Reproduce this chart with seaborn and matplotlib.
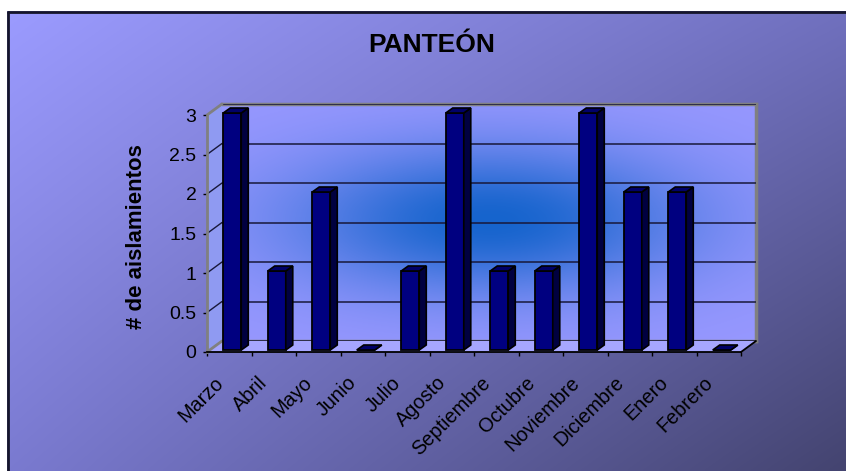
import numpy as np
import matplotlib
matplotlib.use("Agg")
import matplotlib.pyplot as plt
import seaborn as sns
from matplotlib.transforms import ScaledTranslation, IdentityTransform
from matplotlib.patches import Polygon
from matplotlib.lines import Line2D

# ---- data ----
months = ["Marzo", "Abril", "Mayo", "Junio", "Julio", "Agosto", "Septiembre",
          "Octubre", "Noviembre", "Diciembre", "Enero", "Febrero"]
counts = [3, 1, 2, 0, 1, 3, 1, 1, 3, 2, 2, 0]
yticks = [0, 0.5, 1, 1.5, 2, 2.5, 3]
ytick_labels = ["0", "0.5", "1", "1.5", "2", "2.5", "3"]
title = "PANTEÓN"
ylabel = "# de aislamientos"

sns.set_style("white")
plt.rcParams["font.family"] = ["Liberation Sans", "DejaVu Sans"]
plt.rcParams["text.color"] = "black"
plt.rcParams["xtick.color"] = "black"
plt.rcParams["ytick.color"] = "black"
plt.rcParams["axes.labelcolor"] = "black"

W, H, DPI = 846, 471, 100
fig = plt.figure(figsize=(W / DPI, H / DPI), dpi=DPI)
fig.patch.set_facecolor("white")


def px_rect(x0, y0, x1, y1):
    return [x0 / W, 1 - y1 / H, (x1 - x0) / W, (y1 - y0) / H]


# ---- outer background (diagonal gradient) ----
bg = fig.add_axes([0, 0, 1, 1], zorder=0)
bg.set_xlim(0, W)
bg.set_ylim(H, 0)
bg.axis("off")
nx, ny = 240, 140
u = np.linspace(0, 1, nx)[None, :, None]
v = np.linspace(0, 1, ny)[:, None, None]
TL = np.array([155, 155, 255.0])
TR = np.array([112, 112, 190.0])
BL = np.array([122, 122, 208.0])
BR = np.array([68, 68, 112.0])
img = (TL * (1 - u) * (1 - v) + TR * u * (1 - v) + BL * (1 - u) * v + BR * u * v) / 255
bg.imshow(img, extent=(7, W, H, 11), aspect="auto", interpolation="bilinear", zorder=0)
bg.plot([7.5, 7.5], [H, 11], color="#15152a", lw=2, zorder=1, solid_capstyle="butt")
bg.plot([7, W], [11.5, 11.5], color="#15152a", lw=2, zorder=1, solid_capstyle="butt")

# ---- back wall ----
wall = fig.add_axes(px_rect(222, 104, 756, 341), zorder=1)
wall.set_xlim(-0.5, 11.5)
wall.set_ylim(0, 3)
wx = np.linspace(0, 534, 300)[None, :]
wy = np.linspace(0, 237, 150)[:, None]
cx, cy = 268, 121
g = np.exp(-(((wx - cx) / 200.0) ** 2 + ((wy - cy) / 75.0) ** 2))
base = np.array([152, 152, 255.0])
glow = np.array([22, 100, 205.0])
wimg = (base * (1 - g[..., None]) + glow * g[..., None]) / 255
wall.imshow(wimg, extent=(-0.5, 11.5, 3, 0), aspect="auto", interpolation="bilinear", zorder=0)
wall.set_ylim(0, 3)
wall.set_yticks(yticks)
wall.set_xticks([])
wall.tick_params(left=False, labelleft=False)
wall.set_axisbelow(False)
wall.grid(axis="y", color="#18183a", lw=1.1)
for s in ["top", "right", "bottom"]:
    wall.spines[s].set_color("#808080")
    wall.spines[s].set_linewidth(2.5)
wall.spines["left"].set_visible(False)

# ---- main (front) axes ----
ax = fig.add_axes(px_rect(207, 115, 741, 352), zorder=3)
ax.patch.set_alpha(0)
sns.barplot(x=months, y=counts, ax=ax, color="#000080", saturation=1,
            width=0.405, edgecolor="black", linewidth=1.3)
ax.set_xlim(-0.5, 11.5)
ax.set_ylim(0, 3)
ax.set_yticks(yticks, ytick_labels)
ax.set_xticks(range(len(months)), months)
ax.set_xticks(np.arange(-0.5, len(months), 1), minor=True)
ax.set_xlabel("")
ax.set_ylabel("")
ax.tick_params(axis="y", direction="out", length=3, width=1, color="black",
               labelcolor="black", pad=4.5, labelsize=14, left=True)
ax.tick_params(axis="x", which="major", length=0, pad=20, labelsize=14.3,
               labelcolor="black")
ax.tick_params(axis="x", which="minor", direction="out", length=3, width=1,
               color="black", bottom=True)
lab_off = ScaledTranslation(-9 / DPI, 0, fig.dpi_scale_trans)
for lab in ax.get_xticklabels():
    lab.set_rotation(45)
    lab.set_ha("right")
    lab.set_va("center")
    lab.set_rotation_mode("anchor")
    lab.set_transform(lab.get_transform() + lab_off)
for s in ["top", "right"]:
    ax.spines[s].set_visible(False)
ax.spines["left"].set_color("#808080")
ax.spines["left"].set_linewidth(2)
ax.spines["bottom"].set_color("black")
ax.spines["bottom"].set_linewidth(1.3)

# ---- 3D decorations: floor & side wall ----
ident = IdentityTransform()
f_l, f_r = ax.transAxes.transform([(0, 0), (1, 0)])
b_l, b_r = wall.transAxes.transform([(0, 0), (1, 0)])
f_top = ax.transAxes.transform((0, 1))
b_top = wall.transAxes.transform((0, 1))
floor = Polygon([f_l, f_r, b_r, b_l], closed=True, facecolor="#a6a6ff",
                edgecolor="none", transform=ident, zorder=2)
fig.add_artist(floor)
side = Polygon([f_l, f_top, b_top, b_l], closed=True, facecolor="#8f9af2",
               edgecolor="none", transform=ident, zorder=2)
fig.add_artist(side)
edges = [([f_r, b_r], "black"), ([f_l, b_l], "#808080"), ([f_top, b_top], "#808080")]
for (p, q), c in edges:
    fig.add_artist(Line2D([p[0], q[0]], [p[1], q[1]], color=c,
                          lw=2 if c != "black" else 1.3,
                          transform=ident, zorder=2.5))
for t in yticks[1:-1]:
    p = ax.transData.transform((-0.5, t))
    q = wall.transData.transform((-0.5, t))
    fig.add_artist(Line2D([p[0], q[0]], [p[1], q[1]], color="#18183a",
                          lw=1, transform=ident, zorder=2.5))

# ---- 3D bars ----
off = ScaledTranslation(3 / DPI, 2 / DPI, fig.dpi_scale_trans)
T = ax.transData + off
ddx, ddy = 7, 5
for p in list(ax.patches):
    p.set_transform(T)
    p.set_clip_on(False)
    x0, w, h = p.get_x(), p.get_width(), p.get_height()
    X0, Y0 = T.transform((x0, 0))
    X1, Y1 = T.transform((x0 + w, h))
    top = Polygon([(X0, Y1), (X1, Y1), (X1 + ddx, Y1 + ddy), (X0 + ddx, Y1 + ddy)],
                  closed=True, facecolor="#000068", edgecolor="black", lw=1.2,
                  transform=ident, clip_on=False, zorder=3)
    sidef = Polygon([(X1, Y0), (X1, Y1), (X1 + ddx, Y1 + ddy), (X1 + ddx, Y0 + ddy)],
                    closed=True, facecolor="#000040", edgecolor="black", lw=1.2,
                    transform=ident, clip_on=False, zorder=3)
    ax.add_artist(sidef)
    ax.add_artist(top)

# ---- texts ----
fig.text(432 / W, 1 - 45 / H, title, ha="center", va="center",
         fontsize=19, fontweight="bold", color="black")
fig.text(136 / W, 1 - 237 / H, ylabel, ha="center", va="center", rotation=90,
         fontsize=16, fontweight="bold", color="black")

fig.savefig("out.png", dpi=DPI)
